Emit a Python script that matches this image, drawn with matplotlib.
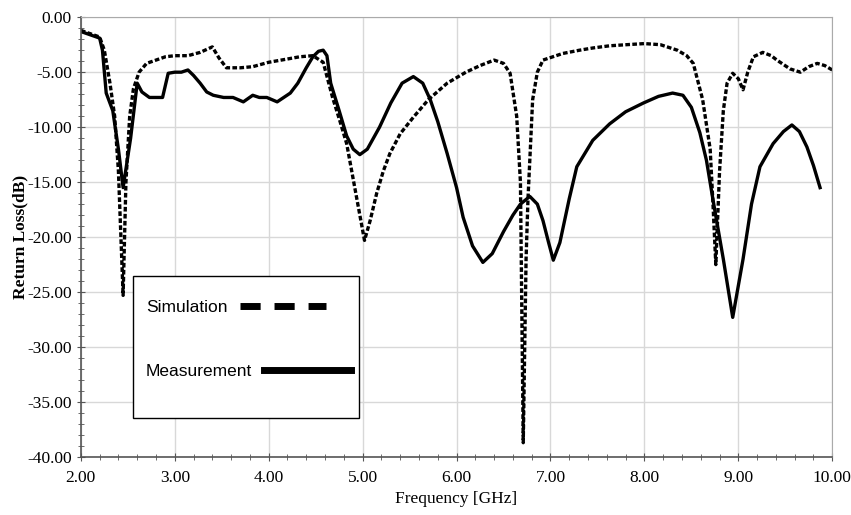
import matplotlib
matplotlib.use("Agg")
import matplotlib.pyplot as plt
from matplotlib.lines import Line2D
from matplotlib.patches import Rectangle
from matplotlib.ticker import MultipleLocator, FormatStrFormatter

# measured return loss
meas_f = [2.00, 2.10, 2.20, 2.23, 2.27, 2.34, 2.40, 2.45, 2.53, 2.60, 2.65, 2.73, 2.87, 2.93,
          3.00, 3.07, 3.14, 3.20, 3.27, 3.34, 3.41, 3.52, 3.62, 3.73, 3.83, 3.90, 3.98, 4.09,
          4.16, 4.23, 4.31, 4.40, 4.47, 4.53, 4.58, 4.62, 4.66, 4.75, 4.83, 4.90, 4.97, 5.05,
          5.18, 5.30, 5.42, 5.54, 5.64, 5.72, 5.80, 5.90, 6.00, 6.07, 6.17, 6.28, 6.38, 6.50,
          6.60, 6.68, 6.78, 6.86, 6.92, 6.98, 7.03, 7.10, 7.20, 7.28, 7.45, 7.63, 7.80, 7.99,
          8.15, 8.30, 8.41, 8.50, 8.59, 8.66, 8.73, 8.84, 8.94, 9.05, 9.14, 9.23, 9.37, 9.48,
          9.57, 9.65, 9.73, 9.80, 9.87]
meas_db = [-1.3, -1.6, -1.9, -3.0, -6.9, -8.5, -12.0, -15.5, -11.0, -6.0, -6.8, -7.3, -7.3, -5.1,
           -5.0, -5.0, -4.8, -5.3, -6.0, -6.8, -7.1, -7.3, -7.3, -7.7, -7.1, -7.3, -7.3, -7.7,
           -7.3, -6.9, -6.0, -4.6, -3.6, -3.1, -3.0, -3.5, -6.0, -8.5, -10.8, -12.0, -12.5, -12.0,
           -10.0, -7.8, -6.0, -5.4, -6.0, -7.5, -9.5, -12.4, -15.5, -18.2, -20.8, -22.3, -21.5, -19.5,
           -18.0, -17.0, -16.3, -17.0, -18.5, -20.5, -22.1, -20.5, -16.5, -13.6, -11.2, -9.7, -8.6, -7.8,
           -7.2, -6.9, -7.1, -8.2, -10.5, -13.0, -16.6, -22.0, -27.3, -22.0, -17.0, -13.6, -11.5, -10.4,
           -9.8, -10.4, -11.8, -13.5, -15.5]

# simulated return loss
sim_f = [2.00, 2.10, 2.20, 2.25, 2.31, 2.36, 2.40, 2.45, 2.48, 2.52, 2.56, 2.62, 2.70, 2.80,
         2.90, 3.00, 3.14, 3.27, 3.40, 3.47, 3.55, 3.70, 3.83, 4.00, 4.20, 4.33, 4.47, 4.58,
         4.68, 4.76, 4.83, 4.94, 5.02, 5.08, 5.15, 5.22, 5.29, 5.40, 5.54, 5.70, 5.90, 6.10,
         6.25, 6.40, 6.50, 6.57, 6.64, 6.68, 6.71, 6.74, 6.76, 6.81, 6.86, 6.92, 7.13, 7.31,
         7.45, 7.63, 7.81, 8.00, 8.17, 8.35, 8.45, 8.52, 8.62, 8.70, 8.73, 8.76, 8.80, 8.84,
         8.88, 8.94, 9.00, 9.05, 9.10, 9.16, 9.26, 9.35, 9.41, 9.55, 9.66, 9.75, 9.84, 9.92, 10.00]
sim_db = [-1.2, -1.5, -1.8, -3.0, -6.0, -9.0, -14.0, -25.3, -15.0, -9.0, -6.5, -5.0, -4.2, -3.9,
          -3.6, -3.5, -3.5, -3.2, -2.7, -3.7, -4.6, -4.6, -4.5, -4.1, -3.8, -3.6, -3.5, -4.1,
          -7.3, -9.5, -11.5, -16.6, -20.3, -18.5, -16.0, -14.0, -12.4, -10.6, -9.1, -7.5, -6.0, -5.0,
          -4.4, -3.9, -4.2, -5.1, -9.0, -15.0, -38.7, -22.0, -16.6, -7.5, -5.0, -3.9, -3.3, -3.0,
          -2.8, -2.6, -2.5, -2.4, -2.5, -3.0, -3.5, -4.2, -7.5, -12.0, -17.0, -22.5, -14.0, -8.5,
          -6.0, -5.1, -5.6, -6.6, -5.0, -3.6, -3.2, -3.5, -3.9, -4.7, -5.0, -4.5, -4.2, -4.4, -4.8]

plt.rcParams["font.family"] = ["Liberation Serif", "DejaVu Serif"]

fig = plt.figure(figsize=(8.51, 5.15), dpi=100)
ax = fig.add_axes([0.095, 0.1126, 0.883, 0.854])

ax.plot(sim_f, sim_db, color="black", lw=2.4, ls=(0, (1.4, 0.7)))
ax.plot(meas_f, meas_db, color="black", lw=2.4)

ax.set_xlim(2, 10)
ax.set_ylim(-40, 0)
ax.xaxis.set_major_locator(MultipleLocator(1))
ax.xaxis.set_minor_locator(MultipleLocator(0.2))
ax.yaxis.set_major_locator(MultipleLocator(5))
ax.yaxis.set_minor_locator(MultipleLocator(1))
ax.xaxis.set_major_formatter(FormatStrFormatter("%.2f"))
ax.yaxis.set_major_formatter(FormatStrFormatter("%.2f"))
ax.grid(True, which="major", color="#d8d8d8", lw=1)
ax.set_axisbelow(True)
ax.tick_params(which="both", direction="inout", color="#555555")
ax.tick_params(which="major", length=6, labelsize=12.5)
ax.tick_params(axis="x", which="major", pad=6)
ax.tick_params(which="minor", length=4)
for side in ["top", "right"]:
    ax.spines[side].set_color("#aaaaaa")
for side in ["left", "bottom"]:
    ax.spines[side].set_color("#555555")
    ax.spines[side].set_linewidth(1.2)

ax.set_xlabel("Frequency [GHz]", fontsize=12.5, labelpad=4)
ax.set_ylabel("Return Loss(dB)", fontsize=12.5, fontweight="bold", labelpad=-1)

# legend box drawn separately so it can be taller than its two rows
ax.add_patch(Rectangle((0.069, 0.089), 0.301, 0.322, transform=ax.transAxes,
                       facecolor="white", edgecolor="black", lw=1.0, zorder=4))
handles = [Line2D([], [], color="black", lw=5, ls=(0, (2.9, 2.0))),
           Line2D([], [], color="black", lw=5)]
leg = ax.legend(handles, ["Simulation", "Measurement"], loc="upper left",
                bbox_to_anchor=(0.0866, 0.357), markerfirst=False, handlelength=5.0,
                handletextpad=0.7, labelspacing=2.82, borderpad=0, borderaxespad=0,
                frameon=False, prop={"family": ["Liberation Sans", "DejaVu Sans"], "size": 12.5})
leg.set_zorder(5)
# rows start at the left like the original box
for col in leg._legend_handle_box.get_children():
    col.align = "left"

fig.savefig("out.png", dpi=100)
